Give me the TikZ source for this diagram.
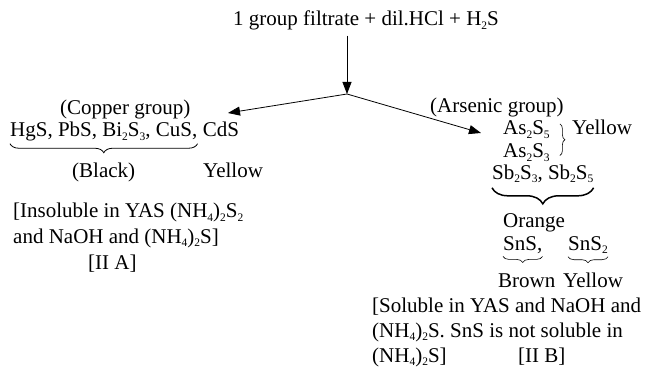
\documentclass[tikz,border=0pt]{standalone}
\usepackage{fontspec}
\setmainfont{Liberation Serif}
\usetikzlibrary{arrows.meta,positioning,decorations.pathreplacing}
\newcommand{\ix}[1]{\raisebox{-3.5pt}{\fontsize{11.5}{11.5}\selectfont #1}}

\begin{document}
\begin{tikzpicture}[x=1pt, y=-1pt,
  font=\fontsize{21}{25}\selectfont,
  lbl/.style={inner sep=0pt, anchor=base west},
  arr/.style={-{Triangle[length=12pt,width=9pt]}, line width=0.8pt},
  brc/.style={decorate, decoration={brace, mirror, amplitude=#1}, line width=0.8pt}]
  \useasboundingbox (0,0) rectangle (649,369);
  \node[lbl] (title) at (233,26) {1 group filtrate + dil.HCl + H\ix{2}S};
  \coordinate (split) at (347,94);
  \coordinate (cuin) at (228,113);
  \coordinate (asin) at (481,133);
  % copper group
  \node[lbl] (cuhead) at (60,115) {(Copper group)};
  \node[lbl] (cugrp) at (10,137) {HgS, PbS, Bi\ix{2}S\ix{3}, CuS,};
  \node[lbl, base right=5pt of cugrp] (cds) {CdS};
  \node[lbl] (black) at (72,177) {(Black)};
  \node[lbl] (cdsyel) at (203,177) {Yellow};
  \node[lbl] (insol1) at (13,218) {[Insoluble in YAS (NH\ix{4})\ix{2}S\ix{2}};
  \node[lbl] (insol2) at (13,243) {and NaOH and (NH\ix{4})\ix{2}S]};
  \node[lbl] (iia) at (88,269) {[II A]};
  % arsenic group
  \node[lbl] (ashead) at (430,113) {(Arsenic group)};
  \node[lbl] (as5) at (503,135) {As\ix{2}S\ix{5}};
  \node[lbl] (as3) at (503,157.5) {As\ix{2}S\ix{3}};
  \node[lbl] (asyel) at (572,135) {Yellow};
  \node[lbl] (sb) at (492,179) {Sb\ix{2}S\ix{3}, Sb\ix{2}S\ix{5}};
  \node[lbl] (orange) at (503,227) {Orange};
  \node[lbl] (sns) at (503,250) {SnS,};
  \node[lbl] (sns2) at (568,250) {SnS\ix{2}};
  \node[lbl] (brown) at (498,287) {Brown};
  \node[lbl] (snyel) at (563,287) {Yellow};
  \node[lbl] (sol1) at (372,312) {[Soluble in YAS and NaOH and};
  \node[lbl] (sol2) at (372,337) {(NH\ix{4})\ix{2}S. SnS is not soluble in};
  \node[lbl] (sol3) at (372,362) {(NH\ix{4})\ix{2}S]};
  \node[lbl] (iib) at (518,362) {[II B]};
  % arrows
  \draw[arr, shorten <=5pt] (title.south -| split) -- (split);
  \draw[arr] (split) -- (cuin);
  \draw[arr] (split) -- (asin);
  % braces
  \draw[brc=9pt] ([yshift=-2pt]cugrp.south west) -- ([yshift=-2pt]cugrp.south east);
  \draw[decorate, decoration={brace, amplitude=5pt}, line width=0.6pt]
    ([xshift=10pt,yshift=-3pt]as5.north east) -- ([xshift=10pt,yshift=2pt]as3.base east);
  \draw[brc=16pt, line width=1.5pt] ([yshift=-5pt]sb.south west) -- ([yshift=-5pt]sb.south east);
  \draw[brc=6pt, line width=0.6pt] ([yshift=-3pt]sns.south west) -- ([yshift=-3pt]sns.south east);
  \draw[brc=6pt, line width=0.6pt] ([yshift=-3pt]sns2.south west) -- ([yshift=-3pt]sns2.south east);
\end{tikzpicture}
\end{document}
